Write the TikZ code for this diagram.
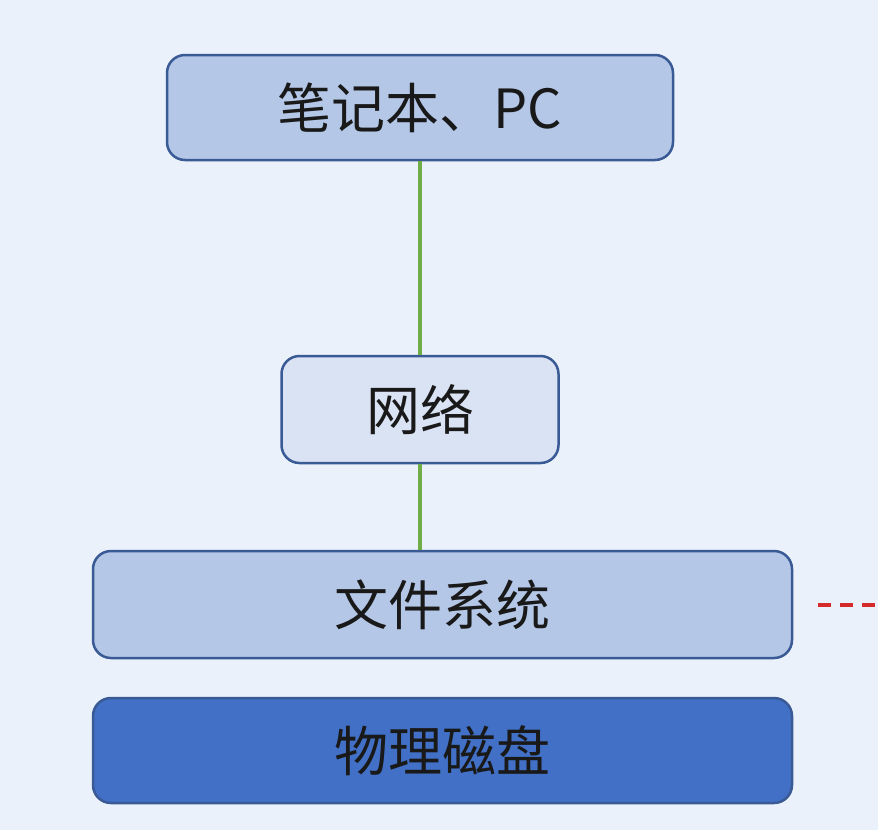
\documentclass[tikz,border=0pt]{standalone}
\usepackage{fontspec}
\newfontfamily\cjk{Noto Sans CJK SC}
\usetikzlibrary{calc}
\definecolor{bg}{HTML}{EAF1FA}
\definecolor{midblue}{HTML}{B4C7E7}
\definecolor{paleblue}{HTML}{DAE3F3}
\definecolor{darkblue}{HTML}{4170C6}
\definecolor{edgeblue}{HTML}{3A5A96}
\definecolor{lgreen}{HTML}{70AD47}
\definecolor{dred}{HTML}{D42A2A}
\tikzset{
  boxbase/.style={draw=edgeblue, line width=2.5pt, rounded corners=18pt, inner sep=0pt,
    font=\cjk\fontsize{54}{62}\selectfont, text=black!90},
  midbox/.style={boxbase, fill=midblue},
  palebox/.style={boxbase, fill=paleblue},
  darkbox/.style={boxbase, fill=darkblue},
  link/.style={draw=lgreen, line width=3.5pt},
  reddash/.style={draw=dred, line width=3.5pt, dash pattern=on 13pt off 9pt}
}
\begin{document}
\begin{tikzpicture}[x=1pt,y=-1pt]
\useasboundingbox (0,0) rectangle (878,830);
\fill[bg] (0,0) rectangle (878,830);
\node[midbox, minimum width=506pt, minimum height=105pt] (pc) at (420,107.5) {笔记本、PC};
\node[palebox, minimum width=277pt, minimum height=107pt] (net) at (420,409.5) {网络};
\node[midbox, minimum width=699pt, minimum height=107pt] (fs) at (442.5,604.5) {文件系统};
\node[darkbox, minimum width=699pt, minimum height=105pt] (disk) at (442.5,750.5) {物理磁盘};
\draw[link] (net.north) -- (net.north |- pc.south);
\draw[link] (net.south) -- (net.south |- fs.north);
\coordinate (rs) at (818,605);
\coordinate (re) at (878,605);
\draw[reddash] (rs) -- (re);
\end{tikzpicture}
\end{document}
